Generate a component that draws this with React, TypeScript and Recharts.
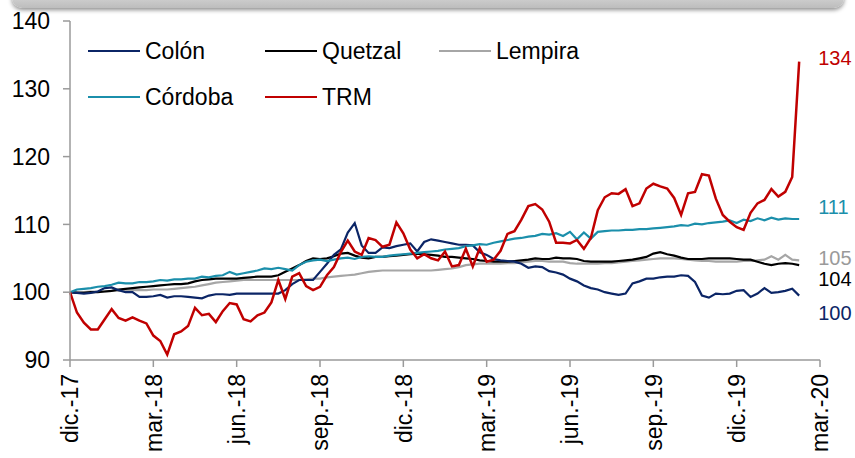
import { LineChart, Line, XAxis, YAxis, LabelList } from "recharts";

// one point every quarter of a month, starting dic.-17
const STEP_MONTHS = 0.25;

const monthTicks = [0, 3, 6, 9, 12, 15, 18, 21, 24, 27];
const monthLabels = [
    "dic.-17", "mar.-18", "jun.-18", "sep.-18", "dic.-18",
    "mar.-19", "jun.-19", "sep.-19", "dic.-19", "mar.-20",
];
const yTicks = [90, 100, 110, 120, 130, 140];

const colon = [
    100.0, 99.9, 99.8, 99.9, 100.1, 100.6, 100.7, 100.3, 100.0, 100.0,
    99.3, 99.3, 99.4, 99.6, 99.2, 99.4, 99.4, 99.3, 99.2, 99.1,
    99.5, 99.7, 99.7, 99.6, 99.8, 99.8, 99.8, 99.8, 99.8, 99.8,
    99.8, 100.3, 101.2, 101.8, 101.8, 101.8, 103.0, 104.2, 105.5, 106.3,
    108.8, 110.2, 106.9, 105.8, 105.8, 106.6, 106.5, 106.8, 107.0, 107.2,
    106.0, 107.4, 107.8, 107.6, 107.4, 107.2, 107.0, 107.0, 106.9, 105.9,
    105.5, 104.9, 104.7, 104.6, 104.5, 104.2, 103.6, 103.8, 103.7, 103.1,
    102.9, 102.6, 102.0, 101.6, 101.0, 100.6, 100.4, 100.0, 99.8, 99.6,
    99.8, 101.3, 101.6, 102.0, 102.0, 102.2, 102.3, 102.3, 102.5, 102.4,
    101.5, 99.5, 99.2, 99.8, 99.7, 99.8, 100.2, 100.3, 99.3, 99.8,
    100.6, 99.9, 100.0, 100.2, 100.5, 99.5,
];

const quetzal = [
    100.0, 99.9, 99.9, 100.0, 100.0, 100.1, 100.2, 100.4, 100.5, 100.6,
    100.7, 100.8, 100.9, 101.0, 101.1, 101.2, 101.2, 101.3, 101.6, 101.8,
    101.9, 102.0, 102.0, 102.0, 102.0, 102.1, 102.2, 102.3, 102.3, 102.3,
    102.5, 103.0, 103.5, 104.0, 104.6, 105.0, 104.9, 105.0, 105.3, 105.7,
    105.8, 105.4, 105.1, 105.0, 105.2, 105.2, 105.3, 105.4, 105.5, 105.6,
    105.7, 105.6, 105.5, 105.4, 105.2, 105.2, 105.1, 105.0, 104.9, 104.7,
    104.6, 104.5, 104.5, 104.5, 104.6, 104.7, 104.8, 105.0, 104.9, 104.9,
    105.1, 105.0, 105.0, 104.9, 104.6, 104.5, 104.5, 104.5, 104.5, 104.6,
    104.7, 104.8, 105.0, 105.2, 105.7, 105.9, 105.6, 105.4, 105.1, 104.9,
    104.9, 104.9, 105.0, 105.0, 105.0, 105.0, 104.9, 104.8, 104.8, 104.5,
    104.2, 104.0, 104.2, 104.3, 104.2, 104.0,
];

const lempira = [
    100.0, 100.0, 100.0, 100.1, 100.1, 100.1, 100.2, 100.2, 100.2, 100.3,
    100.3, 100.3, 100.4, 100.4, 100.4, 100.5, 100.6, 100.7, 100.8, 101.0,
    101.2, 101.4, 101.5, 101.6, 101.7, 101.8, 101.8, 101.8, 101.8, 101.8,
    101.8, 101.8, 101.8, 101.8, 101.9, 102.0, 102.0, 102.2, 102.3, 102.4,
    102.5, 102.6, 102.8, 103.0, 103.1, 103.2, 103.2, 103.2, 103.2, 103.2,
    103.2, 103.2, 103.2, 103.3, 103.4, 103.5, 103.7, 104.0, 104.1, 104.2,
    104.2, 104.2, 104.2, 104.3, 104.3, 104.4, 104.5, 104.6, 104.6, 104.5,
    104.5, 104.5, 104.3, 104.2, 104.2, 104.2, 104.2, 104.3, 104.3, 104.4,
    104.5, 104.6, 104.7, 104.8, 104.9, 105.0, 105.0, 105.0, 104.9, 104.8,
    104.7, 104.6, 104.6, 104.5, 104.5, 104.5, 104.5, 104.6, 104.6, 104.7,
    104.8, 105.3, 104.8, 105.5, 104.8, 104.7,
];

const cordoba = [
    100.0, 100.4, 100.5, 100.6, 100.8, 100.9, 101.1, 101.4, 101.3, 101.3,
    101.5, 101.5, 101.6, 101.8, 101.7, 101.9, 101.9, 102.0, 102.0, 102.3,
    102.2, 102.4, 102.5, 103.0, 102.6, 102.8, 103.0, 103.2, 103.5, 103.4,
    103.6, 103.4, 103.2, 104.0, 104.5, 104.7, 104.8, 104.6, 104.8, 105.0,
    105.1, 104.9, 105.2, 105.3, 105.2, 105.2, 105.4, 105.5, 105.6, 105.7,
    105.8, 105.9, 106.0, 106.1, 106.3, 106.4, 106.5, 106.8, 106.9, 107.1,
    107.0, 107.3, 107.5, 107.7, 107.9, 108.0, 108.2, 108.3, 108.6, 108.5,
    108.7, 108.3, 108.9, 107.8, 108.8, 107.9, 108.9, 109.0, 109.1, 109.1,
    109.2, 109.2, 109.3, 109.3, 109.4, 109.5, 109.6, 109.7, 109.9, 109.8,
    110.1, 110.0, 110.2, 110.3, 110.4, 110.6, 110.2, 110.7, 110.5, 110.9,
    110.6, 111.0, 110.7, 110.9, 110.8, 110.8,
];

const trm = [
    100.0, 97.0, 95.5, 94.5, 94.5, 96.0, 97.5, 96.2, 95.8, 96.3,
    95.8, 95.4, 93.6, 92.8, 90.8, 93.8, 94.2, 95.0, 97.7, 96.6,
    96.8, 95.6, 97.2, 98.4, 98.2, 96.0, 95.7, 96.6, 97.0, 98.5,
    101.8, 99.0, 102.3, 102.8, 100.9, 100.3, 100.8, 102.5, 103.7, 105.9,
    107.6, 106.0, 105.5, 108.0, 107.7, 106.7, 107.0, 110.3, 108.7, 106.3,
    105.0, 105.6, 105.0, 104.7, 106.0, 103.8, 104.0, 106.4, 103.8, 106.5,
    104.5, 104.8, 106.1, 108.6, 109.0, 110.7, 112.7, 113.0, 112.2, 110.4,
    107.3, 107.3, 107.2, 107.7, 106.4, 108.0, 112.1, 114.0, 114.6, 114.5,
    115.2, 112.7, 113.1, 115.3, 116.0, 115.6, 115.3, 113.9, 111.4, 114.6,
    114.8, 117.4, 117.2, 113.8, 111.4, 110.4, 109.6, 109.2, 111.7, 113.1,
    113.6, 115.2, 114.1, 114.8, 117.0, 134.0,
];

const COLORS = {
    colon: "#0b2566",
    quetzal: "#000000",
    lempira: "#a6a6a6",
    cordoba: "#1b8fab",
    trm: "#c00000",
};

const FONT = "'Liberation Sans', Arial, sans-serif";
const LAST = trm.length - 1;

const data = trm.map((_, i) => ({
    m: i * STEP_MONTHS,
    colon: colon[i],
    quetzal: quetzal[i],
    lempira: lempira[i],
    cordoba: cordoba[i],
    trm: trm[i],
}));

function MonthTick({ x, y, payload }: any) {
    const label = monthLabels[monthTicks.indexOf(payload.value)];
    return (
        <g transform={`translate(${x},${y})`}>
            <text transform="rotate(-90)" textAnchor="end" dy="0.36em" fontSize={23} fontFamily={FONT} fill="#000">
                {label}
            </text>
        </g>
    );
}

// small number at the right end of each series
function endLabel(color: string, dy: number) {
    return (props: any) => {
        if (props.index !== LAST) return null;
        return (
            <text x={props.x + 19} y={props.y + dy} fill={color} fontSize={20} fontFamily={FONT} dominantBaseline="central">
                {Math.round(Number(props.value))}
            </text>
        );
    };
}

const legendItems = [
    { name: "Colón", color: COLORS.colon, left: 88, top: 51 },
    { name: "Quetzal", color: COLORS.quetzal, left: 265, top: 51 },
    { name: "Lempira", color: COLORS.lempira, left: 439, top: 51 },
    { name: "Córdoba", color: COLORS.cordoba, left: 88, top: 97 },
    { name: "TRM", color: COLORS.trm, left: 265, top: 97 },
];

export default function App() {
    return (
        <div style={{ position: "absolute", left: 0, top: 0, width: 855, height: 458, background: "#fff", overflow: "hidden" }}>
            <div
                style={{
                    position: "absolute",
                    left: 12,
                    top: -14,
                    width: 832,
                    height: 22,
                    borderRadius: 10,
                    background: "linear-gradient(#e4e4e4, #bdbdbd)",
                    boxShadow: "0 2px 4px rgba(0,0,0,0.45)",
                }}
            />
            <LineChart width={855} height={458} data={data} margin={{ top: 21, right: 35, bottom: 0, left: 0 }}>
                <XAxis
                    dataKey="m"
                    type="number"
                    domain={[0, 27]}
                    ticks={monthTicks}
                    interval={0}
                    height={98}
                    tickSize={7}
                    tickMargin={7}
                    tick={<MonthTick />}
                    axisLine={{ stroke: "#9a9a9a", strokeWidth: 1.5 }}
                    tickLine={{ stroke: "#9a9a9a", strokeWidth: 1.5 }}
                />
                <YAxis
                    type="number"
                    domain={[90, 140]}
                    ticks={yTicks}
                    interval={0}
                    width={70}
                    tickSize={7}
                    tickMargin={13}
                    tick={{ fontSize: 23, fontFamily: FONT, fill: "#000" }}
                    axisLine={{ stroke: "#9a9a9a", strokeWidth: 1.5 }}
                    tickLine={{ stroke: "#9a9a9a", strokeWidth: 1.5 }}
                />
                <Line dataKey="lempira" stroke={COLORS.lempira} strokeWidth={2.2} dot={false} isAnimationActive={false}>
                    <LabelList dataKey="lempira" content={endLabel("#9a9a9a", -2)} />
                </Line>
                <Line dataKey="quetzal" stroke={COLORS.quetzal} strokeWidth={2.2} dot={false} isAnimationActive={false}>
                    <LabelList dataKey="quetzal" content={endLabel("#000", 14)} />
                </Line>
                <Line dataKey="colon" stroke={COLORS.colon} strokeWidth={2.2} dot={false} isAnimationActive={false}>
                    <LabelList dataKey="colon" content={endLabel(COLORS.colon, 17)} />
                </Line>
                <Line dataKey="cordoba" stroke={COLORS.cordoba} strokeWidth={2.2} dot={false} isAnimationActive={false}>
                    <LabelList dataKey="cordoba" content={endLabel(COLORS.cordoba, -12)} />
                </Line>
                <Line dataKey="trm" stroke={COLORS.trm} strokeWidth={2.5} dot={false} isAnimationActive={false}>
                    <LabelList dataKey="trm" content={endLabel(COLORS.trm, -4)} />
                </Line>
            </LineChart>
            {legendItems.map((item) => (
                <div
                    key={item.name}
                    style={{
                        position: "absolute",
                        left: item.left,
                        top: item.top - 14,
                        height: 28,
                        display: "flex",
                        alignItems: "center",
                        fontFamily: FONT,
                        fontSize: 23,
                        color: "#000",
                        whiteSpace: "nowrap",
                    }}
                >
                    <span style={{ display: "inline-block", width: 52, height: 2.5, background: item.color, marginRight: 5 }} />
                    {item.name}
                </div>
            ))}
        </div>
    );
}
